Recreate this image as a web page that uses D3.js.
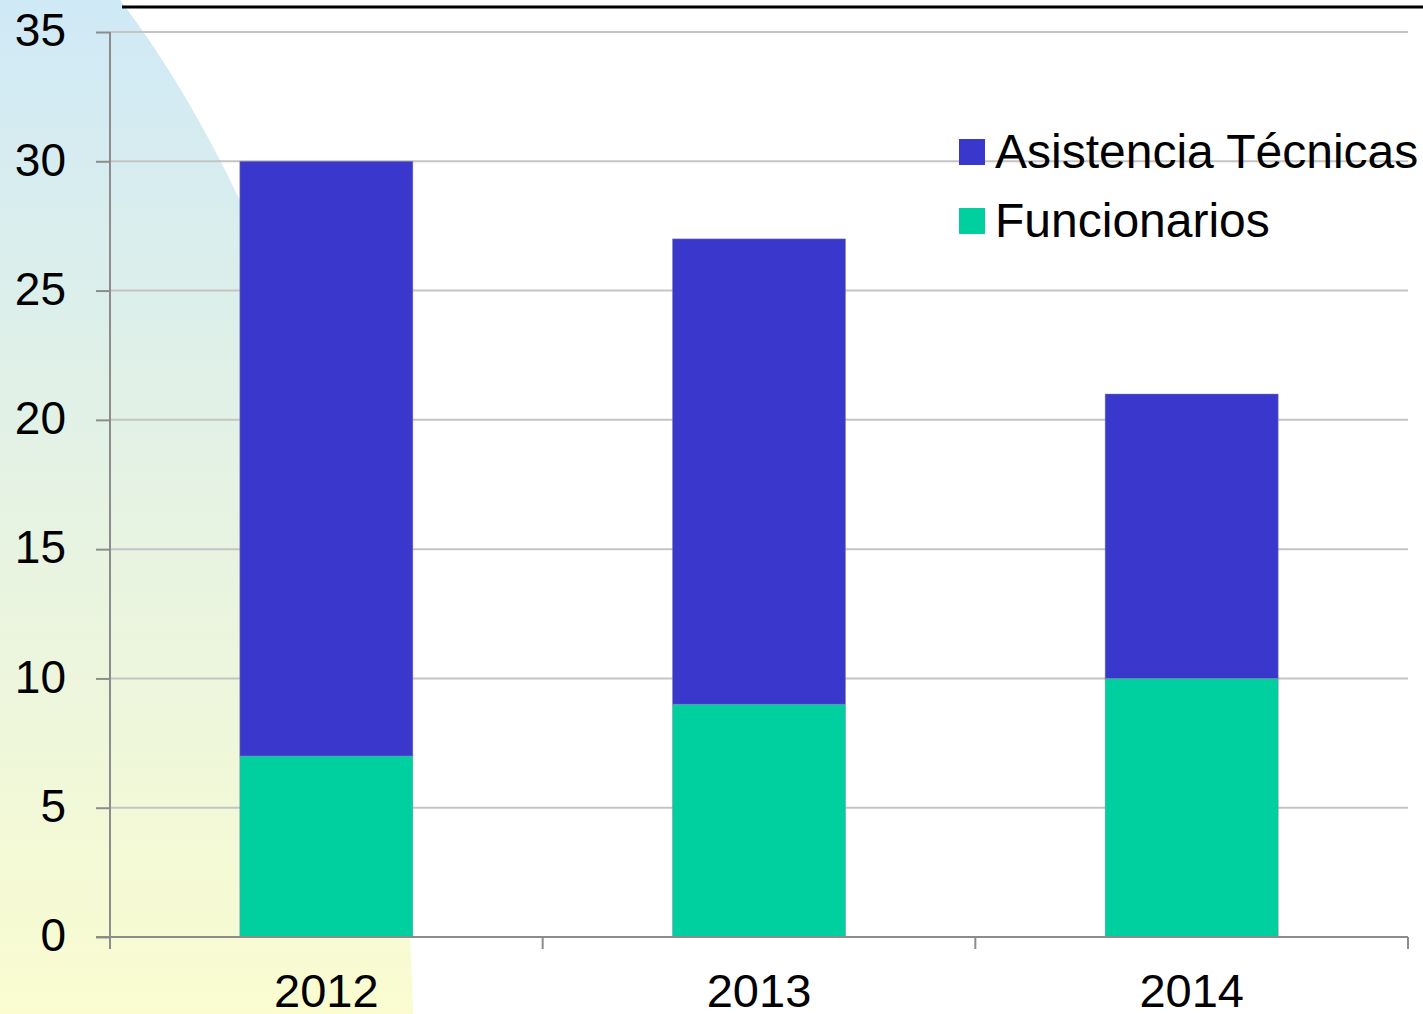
<!DOCTYPE html>
<html>
<head>
<meta charset="utf-8">
<script src="https://cdn.jsdelivr.net/npm/d3@7"></script>
<style>
  body { margin: 0; background: #fff; }
  text { font-family: "Liberation Sans", Arial, sans-serif; fill: #000; }
</style>
</head>
<body>
<div id="plot-container"></div>
<script>
// Chart data
const years = ["2012", "2013", "2014"];
const funcionarios = [7, 9, 10];
const asistencia = [23, 18, 11];
const seriesNames = ["Funcionarios", "Asistencia Técnicas"];
const yTicks = [0, 5, 10, 15, 20, 25, 30, 35];

const W = 1423, H = 1014;
const plot = { left: 110, right: 1408, top: 32, bottom: 937 };
const colors = { "Funcionarios": "#00d0a0", "Asistencia Técnicas": "#3a38cc" };

const svg = d3.select("#plot-container")
    .append("svg")
    .attr("width", W)
    .attr("height", H);

// Background decoration (slide gradient shape at left)
const defs = svg.append("defs");
const grad = defs.append("linearGradient")
    .attr("id", "bgGrad")
    .attr("x1", 0).attr("y1", 0).attr("x2", 0).attr("y2", 1);
grad.append("stop").attr("offset", "0%").attr("stop-color", "#cfe9f6");
grad.append("stop").attr("offset", "50%").attr("stop-color", "#e6f3e3");
grad.append("stop").attr("offset", "100%").attr("stop-color", "#fafcd0");

svg.append("path")
    .attr("d", "M0,0 L120,0 C250,170 400,500 413,1014 L0,1014 Z")
    .attr("fill", "url(#bgGrad)");

// Top rule
svg.append("line")
    .attr("x1", 122).attr("x2", W)
    .attr("y1", 7).attr("y2", 7)
    .attr("stroke", "#000")
    .attr("stroke-width", 3);

// Scales
const xScale = d3.scaleBand()
    .domain(years)
    .range([plot.left, plot.right])
    .paddingInner(0.6)
    .paddingOuter(0.3);

const yScale = d3.scaleLinear()
    .domain([0, 35])
    .range([plot.bottom, plot.top]);

// Gridlines
svg.append("g")
    .selectAll("line")
    .data(yTicks.filter(d => d > 0))
    .enter()
    .append("line")
    .attr("x1", plot.left).attr("x2", plot.right)
    .attr("y1", d => yScale(d)).attr("y2", d => yScale(d))
    .attr("stroke", "#c4c4c4")
    .attr("stroke-width", 2);

// Stacked bars
const rows = years.map((y, i) => ({ year: y, "Funcionarios": funcionarios[i], "Asistencia Técnicas": asistencia[i] }));
const stacked = d3.stack().keys(seriesNames)(rows);

svg.append("g")
    .selectAll("g")
    .data(stacked)
    .enter()
    .append("g")
    .attr("fill", d => colors[d.key])
    .selectAll("rect")
    .data(d => d)
    .enter()
    .append("rect")
    .attr("x", d => xScale(d.data.year))
    .attr("y", d => yScale(d[1]))
    .attr("width", xScale.bandwidth())
    .attr("height", d => yScale(d[0]) - yScale(d[1]))
    .attr("stroke", "#8a8aa8")
    .attr("stroke-width", 0.8)
    .attr("stroke-opacity", 0.6);

// Y axis
const yAxis = svg.append("g")
    .attr("transform", `translate(${plot.left},0)`)
    .call(d3.axisLeft(yScale).tickValues(yTicks).tickSize(14).tickPadding(44).tickFormat(d3.format("d")));
yAxis.select(".domain").attr("stroke", "#8c8c8c").attr("stroke-width", 2)
    .attr("d", `M0,${plot.top}V${plot.bottom + 12}`);
yAxis.selectAll(".tick line").attr("stroke", "#8c8c8c").attr("stroke-width", 2);
yAxis.selectAll(".tick text")
    .attr("x", -44)
    .attr("dy", "0.3em")
    .style("font-size", "46px")
    .style("font-family", "'Liberation Sans', Arial, sans-serif");

// X axis
const xAxisG = svg.append("g").attr("transform", `translate(0,${plot.bottom})`);
xAxisG.append("line")
    .attr("x1", plot.left - 14).attr("x2", plot.right)
    .attr("y1", 0).attr("y2", 0)
    .attr("stroke", "#8c8c8c").attr("stroke-width", 2);
const xEdges = years.map(y => xScale(y) - xScale.step() * xScale.paddingInner() / 2)
    .concat([plot.right]);
xAxisG.selectAll(".xtick")
    .data(xEdges)
    .enter()
    .append("line")
    .attr("x1", d => d).attr("x2", d => d)
    .attr("y1", 0).attr("y2", 12)
    .attr("stroke", "#8c8c8c").attr("stroke-width", 2);
xAxisG.selectAll(".xlabel")
    .data(years)
    .enter()
    .append("text")
    .attr("x", d => xScale(d) + xScale.bandwidth() / 2)
    .attr("y", 70)
    .attr("text-anchor", "middle")
    .style("font-size", "47px")
    .text(d => d);

// Legend
const legendItems = ["Asistencia Técnicas", "Funcionarios"];
const legend = svg.append("g").attr("transform", "translate(959,139)");
legendItems.forEach((name, i) => {
    const g = legend.append("g").attr("transform", `translate(0,${i * 69})`);
    g.append("rect")
        .attr("width", 26).attr("height", 26)
        .attr("fill", colors[name]);
    g.append("text")
        .attr("x", 36)
        .attr("y", 29)
        .style("font-size", "48px")
        .text(name);
});
</script>
</body>
</html>
